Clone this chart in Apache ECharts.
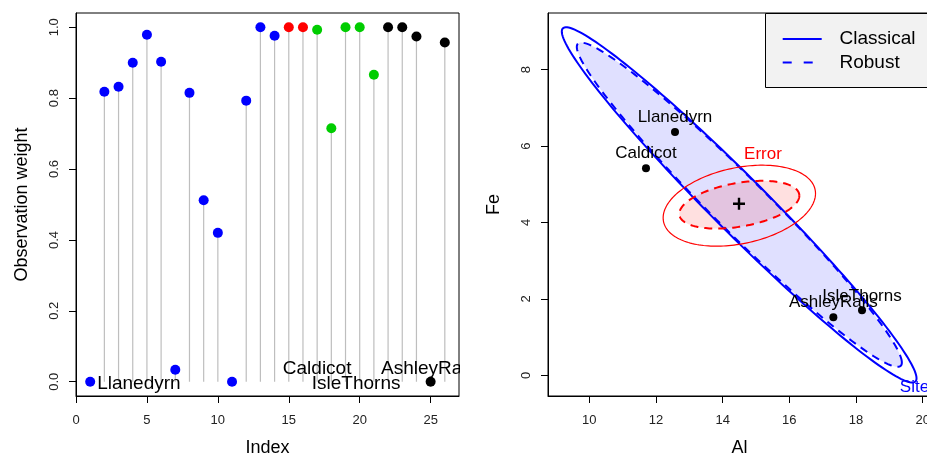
<!DOCTYPE html>
<html>
<head>
<meta charset="utf-8">
<title>Pottery: observation weights and HE plot</title>
<script src="https://cdn.jsdelivr.net/npm/echarts@6/dist/echarts.min.js"></script>
<style>
    html, body { margin: 0; padding: 0; background: #fff; }
    #chart { width: 927px; height: 456px; }
</style>
</head>
<body>
<div id="chart"></div>
<script>
    // ---- left panel: robust observation weights ----
    var obsIndex = [1, 2, 3, 4, 5, 6, 7, 8, 9, 10, 11, 12, 13, 14, 15, 16, 17, 18, 19, 20, 21, 22, 23, 24, 25, 26];
    var obsWeight = [0.0, 0.818, 0.832, 0.900, 0.979, 0.903, 0.034, 0.815, 0.512, 0.420, 0.0, 0.793, 1.0,
        0.976, 1.0, 1.0, 0.993, 0.715, 1.0, 1.0, 0.866, 1.0, 1.0, 0.974, 0.0, 0.957];
    var obsSite = ['Llanedyrn', 'Llanedyrn', 'Llanedyrn', 'Llanedyrn', 'Llanedyrn', 'Llanedyrn', 'Llanedyrn',
        'Llanedyrn', 'Llanedyrn', 'Llanedyrn', 'Llanedyrn', 'Llanedyrn', 'Llanedyrn', 'Llanedyrn',
        'Caldicot', 'Caldicot',
        'IsleThorns', 'IsleThorns', 'IsleThorns', 'IsleThorns', 'IsleThorns',
        'AshleyRails', 'AshleyRails', 'AshleyRails', 'AshleyRails', 'AshleyRails'];
    var siteColor = {Llanedyrn: '#0000FF', Caldicot: '#FF0000', IsleThorns: '#00CD00', AshleyRails: '#000000'};

    // text labels written into the left panel
    var leftLabelText = ['Llanedyrn', 'Caldicot', 'IsleThorns', 'AshleyRails'];
    var leftLabelX = [1, 17, 19.75, 25];
    var leftLabelY = [0, 0.036, -0.005, 0.036];

    var leftXTicks = [0, 5, 10, 15, 20, 25];
    var leftYTicks = [0, 0.2, 0.4, 0.6, 0.8, 1.0];

    // ---- right panel: HE plot of Fe vs Al ----
    var siteNames = ['Llanedyrn', 'Caldicot', 'IsleThorns', 'AshleyRails'];
    var siteAl = [12.57, 11.70, 18.18, 17.32];
    var siteFe = [6.37, 5.42, 1.70, 1.52];
    var grandMean = [14.49, 4.49];

    // ellipses: [centre Al, centre Fe, half width Al, half height Fe, correlation]
    var siteClassical = [14.495, 4.46, 5.32, 4.65, -0.976];
    var siteRobust = [14.5, 4.465, 4.875, 4.245, -0.973];
    var errorClassical = [14.5, 4.44, 2.285, 1.06, 0.30];
    var errorRobust = [14.5, 4.465, 1.80, 0.625, 0.38];

    var ellipseLabelText = ['Site', 'Error'];
    var ellipseLabelAl = [19.315, 15.21];
    var ellipseLabelFe = [-0.31, 5.79];

    var rightXTicks = [10, 12, 14, 16, 18, 20];
    var rightYTicks = [0, 2, 4, 6, 8];

    var FONT = 'Liberation Sans, Arial, Helvetica, sans-serif';

    function axisX(grid, min, max, name, ticks) {
        return {
            gridIndex: grid, type: 'value', min: min, max: max,
            name: name, nameLocation: 'middle', nameGap: 43,
            nameTextStyle: {fontSize: 18, color: '#000', fontFamily: FONT},
            axisLine: {show: true, onZero: false, lineStyle: {color: '#000', width: 1}},
            axisTick: {show: true, length: 7, customValues: ticks, lineStyle: {color: '#000'}},
            axisLabel: {customValues: ticks, margin: 18, fontSize: 13, color: '#222', fontFamily: FONT},
            splitLine: {show: false}
        };
    }

    function axisY(grid, min, max, name, ticks, fmt) {
        return {
            gridIndex: grid, type: 'value', min: min, max: max,
            name: name, nameLocation: 'middle', nameGap: 45,
            nameTextStyle: {fontSize: 18, color: '#000', fontFamily: FONT},
            axisLine: {show: true, onZero: false, lineStyle: {color: '#000', width: 1}},
            axisTick: {show: true, length: 7, customValues: ticks, lineStyle: {color: '#000'}},
            axisLabel: {customValues: ticks, rotate: 90, margin: 15, fontSize: 13, color: '#222',
                fontFamily: FONT, formatter: fmt},
            splitLine: {show: false}
        };
    }

    // one ellipse per custom series, outline traced through the axes
    function ellipseSeries(params, stroke, width, dash, fill, z) {
        return {
            type: 'custom', xAxisIndex: 1, yAxisIndex: 1, z: z, silent: true,
            data: [params],
            renderItem: function (p, api) {
                var cx = api.value(0), cy = api.value(1), sx = api.value(2), sy = api.value(3), r = api.value(4);
                var q = Math.sqrt(1 - r * r);
                var pts = [];
                for (var i = 0; i < 180; i++) {
                    var t = i / 180 * Math.PI * 2;
                    pts.push(api.coord([cx + sx * Math.cos(t), cy + sy * (r * Math.cos(t) + q * Math.sin(t))]));
                }
                return {
                    type: 'polygon',
                    shape: {points: pts},
                    style: {fill: fill, stroke: stroke, lineWidth: width, lineDash: dash}
                };
            }
        };
    }

    var chart = echarts.init(document.getElementById('chart'));

    var pointData = obsIndex.map(function (x, i) {
        return {value: [x, obsWeight[i]], itemStyle: {color: siteColor[obsSite[i]], opacity: 1}};
    });
    var leftLabelData = leftLabelText.map(function (t, i) {
        var first = i === 0;
        return {
            name: t, value: [leftLabelX[i], leftLabelY[i]],
            label: {position: first ? 'right' : 'inside', distance: 7, offset: first ? [0, 2] : [0, 0]}
        };
    });
    var siteData = siteNames.map(function (n, i) {
        return {name: n, value: [siteAl[i], siteFe[i]]};
    });
    var ellipseLabelData = ellipseLabelText.map(function (t, i) {
        return {
            name: t, value: [ellipseLabelAl[i], ellipseLabelFe[i]],
            label: {position: i === 0 ? 'right' : 'inside', distance: 0,
                color: i === 0 ? '#0000FF' : '#FF0000'}
        };
    });

    var option = {
        backgroundColor: '#fff',
        animation: false,
        textStyle: {fontFamily: FONT},
        grid: [
            {left: 76, top: 13, width: 383, height: 383, outerBoundsMode: 'none', containLabel: false,
                show: true, borderColor: '#000', borderWidth: 1},
            {left: 548, top: 13, width: 383, height: 383, outerBoundsMode: 'none', containLabel: false,
                show: true, borderColor: '#000', borderWidth: 1}
        ],
        xAxis: [
            axisX(0, 0, 27, 'Index', leftXTicks),
            axisX(1, 8.761, 20.249, 'Al', rightXTicks)
        ],
        yAxis: [
            axisY(0, -0.0403, 1.0403, 'Observation weight', leftYTicks, function (v) { return v.toFixed(1); }),
            axisY(1, -0.542, 9.484, 'Fe', rightYTicks, function (v) { return String(v); })
        ],
        series: [
            // stems
            {
                type: 'custom', xAxisIndex: 0, yAxisIndex: 0, z: 1,
                data: obsIndex.map(function (x, i) { return [x, obsWeight[i]]; }),
                renderItem: function (p, api) {
                    var a = api.coord([api.value(0), 0]);
                    var b = api.coord([api.value(0), api.value(1)]);
                    return {type: 'line', shape: {x1: a[0], y1: a[1], x2: b[0], y2: b[1]},
                        style: {stroke: '#BEBEBE', lineWidth: 1.2}};
                }
            },
            {
                type: 'scatter', xAxisIndex: 0, yAxisIndex: 0, z: 3,
                symbolSize: 10, data: pointData
            },
            {
                type: 'scatter', xAxisIndex: 0, yAxisIndex: 0, z: 4, symbolSize: 0,
                itemStyle: {opacity: 1},
                data: leftLabelData,
                label: {show: true, formatter: '{b}', fontSize: 19, color: '#000', opacity: 1, fontFamily: FONT}
            },
            // HE plot
            ellipseSeries(siteRobust, 'none', 0, null, 'rgba(0,0,255,0.12)', 1),
            ellipseSeries(errorRobust, 'none', 0, null, 'rgba(255,0,0,0.12)', 2),
            ellipseSeries(siteClassical, '#0000FF', 2, null, 'none', 3),
            ellipseSeries(siteRobust, '#0000FF', 2, [8, 6], 'none', 3),
            ellipseSeries(errorClassical, '#FF0000', 1.2, null, 'none', 3),
            ellipseSeries(errorRobust, '#FF0000', 2, [8, 6], 'none', 3),
            {
                type: 'scatter', xAxisIndex: 1, yAxisIndex: 1, z: 5,
                symbolSize: 8, itemStyle: {color: '#000', opacity: 1},
                data: siteData,
                label: {show: true, position: 'top', distance: 2, formatter: '{b}',
                    fontSize: 17, color: '#000', opacity: 1, fontFamily: FONT}
            },
            {
                type: 'scatter', xAxisIndex: 1, yAxisIndex: 1, z: 5,
                symbol: 'path://M4,0L6,0L6,4L10,4L10,6L6,6L6,10L4,10L4,6L0,6L0,4L4,4Z',
                symbolSize: 12, itemStyle: {color: '#000', opacity: 1},
                data: [grandMean]
            },
            {
                type: 'scatter', xAxisIndex: 1, yAxisIndex: 1, z: 5, symbolSize: 0,
                itemStyle: {opacity: 1},
                data: ellipseLabelData,
                label: {show: true, formatter: '{b}', fontSize: 17, opacity: 1, fontFamily: FONT}
            }
        ],
        graphic: [
            // hides label text running past the left plot box
            {type: 'rect', z: 100, shape: {x: 460, y: 0, width: 24, height: 420}, style: {fill: '#fff'}},
            // legend
            {type: 'rect', z: 100, shape: {x: 765.5, y: 13.5, width: 200, height: 74},
                style: {fill: '#F2F2F2', stroke: '#000', lineWidth: 1}},
            {type: 'line', z: 101, shape: {x1: 782.7, y1: 39, x2: 821.7, y2: 39},
                style: {stroke: '#0000FF', lineWidth: 2}},
            {type: 'line', z: 101, shape: {x1: 782.7, y1: 62.5, x2: 821.7, y2: 62.5},
                style: {stroke: '#0000FF', lineWidth: 2, lineDash: [9, 12]}},
            {type: 'text', z: 101, style: {text: 'Classical', x: 839.5, y: 39, fontSize: 19, fontFamily: FONT,
                fill: '#000', verticalAlign: 'middle', align: 'left'}},
            {type: 'text', z: 101, style: {text: 'Robust', x: 839.5, y: 62.5, fontSize: 19, fontFamily: FONT,
                fill: '#000', verticalAlign: 'middle', align: 'left'}}
        ]
    };
    chart.setOption(option);
</script>
</body>
</html>
